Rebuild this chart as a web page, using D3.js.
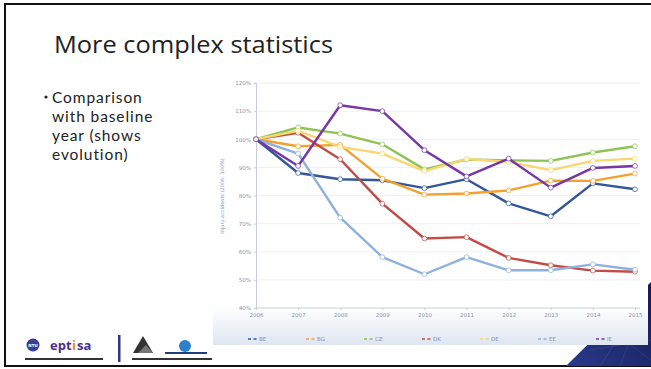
<!DOCTYPE html>
<html>
<head>
<meta charset="utf-8">
<script src="https://cdn.jsdelivr.net/npm/d3@7"></script>
<style>
  html, body { margin: 0; padding: 0; background: #ffffff; }
  svg { display: block; }
</style>
</head>
<body>
<svg id="slide" width="651" height="369"></svg>
<script>
// Injury accidents relative to the 2006 baseline (2006 = 100%)
const years = [2006, 2007, 2008, 2009, 2010, 2011, 2012, 2013, 2014, 2015];
const countries = ["BE", "BG", "CZ", "DK", "DE", "EE", "IE"];
const valuesBE = [100, 88, 85.8, 85.4, 82.6, 85.8, 77.2, 72.6, 84.3, 82.2];
const valuesBG = [100, 97.5, 98, 86, 80.3, 80.7, 81.8, 85.3, 85.2, 87.8];
const valuesCZ = [100, 104.2, 102, 98.2, 89.3, 92.8, 92.5, 92.3, 95.3, 97.5];
const valuesDK = [100, 102.3, 92.9, 77.1, 64.7, 65.2, 57.8, 55.2, 53.3, 52.9];
const valuesDE = [100, 103, 97.3, 94.9, 88.7, 93, 91.9, 89, 92.3, 93.1];
const valuesEE = [100, 94.9, 72.1, 58.1, 52, 58.1, 53.4, 53.4, 55.5, 53.6];
const valuesIE = [100, 90.5, 112.1, 110, 96.1, 86.8, 93.1, 82.8, 89.8, 90.5];
const yTicks = [40, 50, 60, 70, 80, 90, 100, 110, 120];

const seriesValues = [valuesBE, valuesBG, valuesCZ, valuesDK, valuesDE, valuesEE, valuesIE];
const colors = ["#35579a", "#f2a22c", "#8dc454", "#c14c47", "#f8d770", "#8eb1de", "#7637a6"];

const svg = d3.select("#slide");
const bodyFont = "'Open Sans', Lato, sans-serif";

// ---- slide frame ----
svg.append("rect").attr("x", 5).attr("y", 4).attr("width", 650).attr("height", 362)
  .attr("fill", "#ffffff").attr("stroke", "#111").attr("stroke-width", 2);

// title
svg.append("text").attr("x", 54).attr("y", 53)
  .attr("font-family", bodyFont).attr("font-size", 23)
  .attr("textLength", 279).attr("lengthAdjust", "spacingAndGlyphs")
  .attr("fill", "#222").text("More complex statistics");

// bullet text
const bulletLines = ["Comparison", "with baseline", "year (shows", "evolution)"];
svg.append("circle").attr("cx", 46).attr("cy", 97).attr("r", 1.6).attr("fill", "#222");
svg.append("g").selectAll("text").data(bulletLines).join("text")
  .attr("x", 52).attr("y", (d, i) => 103 + i * 19)
  .attr("font-family", "Lato, 'Open Sans', sans-serif").attr("font-size", 15.5)
  .attr("letter-spacing", 0.9)
  .attr("fill", "#222").text(d => d);

// ---- decorative corner (dark starry panel) ----
const defs = svg.append("defs");
const cg = defs.append("linearGradient").attr("id", "corner").attr("x1", 0).attr("y1", 1).attr("x2", 1).attr("y2", 0);
cg.append("stop").attr("offset", 0).attr("stop-color", "#2a3a8c");
cg.append("stop").attr("offset", 1).attr("stop-color", "#141a52");
svg.append("path").attr("d", "M566,366 L651,282 L651,366 Z").attr("fill", "url(#corner)");
const starLines = [[[600, 366], [630, 320]], [[620, 366], [645, 300]], [[590, 350], [651, 340]], [[610, 330], [651, 360]]];
svg.append("g").selectAll("line").data(starLines).join("line")
  .attr("x1", d => d[0][0]).attr("y1", d => d[0][1]).attr("x2", d => d[1][0]).attr("y2", d => d[1][1])
  .attr("stroke", "#6b7bc0").attr("stroke-opacity", 0.35).attr("stroke-width", 0.6);

// ---- chart panel ----
const pg = defs.append("linearGradient").attr("id", "panel").attr("x1", 0).attr("y1", 0).attr("x2", 0).attr("y2", 1);
pg.append("stop").attr("offset", 0).attr("stop-color", "#ffffff");
pg.append("stop").attr("offset", 0.86).attr("stop-color", "#ffffff");
pg.append("stop").attr("offset", 1).attr("stop-color", "#dfe5f1");
svg.append("rect").attr("x", 213).attr("y", 70).attr("width", 435).attr("height", 275).attr("fill", "url(#panel)");

const x = d3.scalePoint().domain(years).range([256, 635]);
const y = d3.scaleLinear().domain([40, 120]).range([308, 83]);

const tickColor = "#8593b3";

// grid lines
svg.append("g").selectAll("line").data(yTicks.filter(t => t > 40)).join("line")
  .attr("x1", 256).attr("x2", 640).attr("y1", d => y(d)).attr("y2", d => y(d))
  .attr("stroke", "#eef0f4").attr("stroke-width", 1);

// axes
const yAxis = svg.append("g").attr("transform", "translate(256,0)")
  .call(d3.axisLeft(y).tickValues(yTicks).tickFormat(d => d + "%").tickSize(2).tickPadding(3));
const xAxis = svg.append("g").attr("transform", "translate(0,308)")
  .call(d3.axisBottom(x).tickSize(2).tickPadding(3));
[yAxis, xAxis].forEach(a => {
  a.select(".domain").attr("stroke", "#c9ced9");
  a.selectAll(".tick line").attr("stroke", "#c9ced9");
  a.selectAll("text").attr("fill", tickColor).attr("font-size", 5.5)
    .attr("font-family", "'DejaVu Sans', sans-serif");
});
xAxis.select(".domain").attr("d", "M256,0H640");

// y-axis title
svg.append("text").attr("transform", "translate(224,196) rotate(-90)")
  .attr("text-anchor", "middle").attr("font-size", 5)
  .attr("font-family", "'DejaVu Sans', sans-serif").attr("fill", tickColor)
  .text("Injury accidents (2006: 100%)");

// series lines
const line = d3.line().x((d, i) => x(years[i])).y(d => y(d));
const seriesG = svg.append("g");
seriesValues.forEach((vals, k) => {
  seriesG.append("path").datum(vals).attr("d", line)
    .attr("fill", "none").attr("stroke", colors[k]).attr("stroke-width", 2.4)
    .attr("stroke-linejoin", "round");
  seriesG.append("g").selectAll("circle").data(vals).join("circle")
    .attr("cx", (d, i) => x(years[i])).attr("cy", d => y(d)).attr("r", 2.4)
    .attr("fill", "#ffffff").attr("stroke", colors[k]).attr("stroke-width", 0.9)
    .attr("stroke-opacity", 0.8);
});

// legend
const lg = svg.append("g").selectAll("g").data(countries).join("g")
  .attr("transform", (d, i) => `translate(${248 + i * 58},339)`);
lg.append("line").attr("x1", 0).attr("x2", 10).attr("stroke", (d, i) => colors[i]).attr("stroke-width", 1.6)
  .attr("stroke-dasharray", "3,2.5");
lg.append("text").attr("x", 11).attr("y", 2).attr("font-size", 5.5)
  .attr("font-family", "'DejaVu Sans', sans-serif").attr("fill", tickColor).text(d => d);

// ---- footer logos ----
const logo = svg.append("g");
logo.append("circle").attr("cx", 33).attr("cy", 345).attr("r", 6.5).attr("fill", "#3a3f8f");
logo.append("text").attr("x", 33).attr("y", 347).attr("text-anchor", "middle").attr("font-size", 4)
  .attr("font-family", "'DejaVu Sans', sans-serif").attr("font-weight", "bold").attr("fill", "#fff").text("NTU");
logo.append("text").attr("x", 50).attr("y", 350).attr("font-size", 13).attr("font-weight", "bold")
  .attr("font-family", "'Open Sans', sans-serif").attr("fill", "#4a2f8f").text("ept");
logo.append("text").attr("x", 72).attr("y", 350).attr("font-size", 13).attr("font-weight", "bold")
  .attr("font-family", "'Open Sans', sans-serif").attr("fill", "#e8892b").text("i");
logo.append("text").attr("x", 77).attr("y", 350).attr("font-size", 13).attr("font-weight", "bold")
  .attr("font-family", "'Open Sans', sans-serif").attr("fill", "#4a2f8f").text("sa");
logo.append("rect").attr("x", 25).attr("y", 358).attr("width", 78).attr("height", 2).attr("fill", "#333");
logo.append("rect").attr("x", 118).attr("y", 335).attr("width", 2.5).attr("height", 27).attr("fill", "#2e3a80");
logo.append("path").attr("d", "M133,353 L143,336 L153,353 Z").attr("fill", "#333");
logo.append("path").attr("d", "M138,353 L146,345 L153,353 Z").attr("fill", "#777");
logo.append("rect").attr("x", 132).attr("y", 358).attr("width", 80).attr("height", 2).attr("fill", "#333");
logo.append("circle").attr("cx", 185).attr("cy", 346).attr("r", 6).attr("fill", "#2f7fd0");
logo.append("rect").attr("x", 165).attr("y", 352).attr("width", 42).attr("height", 2).attr("fill", "#1d3f7a");
</script>
</body>
</html>
